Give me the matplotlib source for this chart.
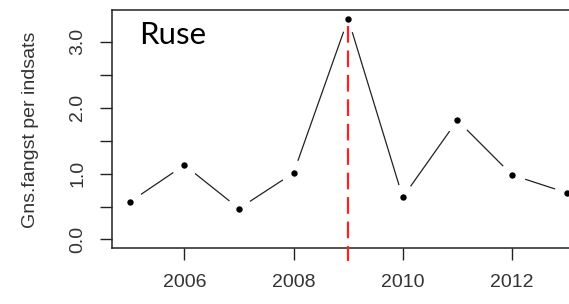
import numpy as np
import matplotlib
matplotlib.use("Agg")
import matplotlib.pyplot as plt

# mean catch per effort, fyke net ("Ruse")
years = [2005, 2006, 2007, 2008, 2009, 2010, 2011, 2012, 2013]
catch = [0.57, 1.13, 0.47, 1.01, 3.35, 0.64, 1.81, 0.98, 0.71]
mark_year = 2009
x_ticks = [2006, 2008, 2010, 2012]
y_ticks = [0.0, 0.5, 1.0, 1.5, 2.0, 2.5, 3.0]
y_labels = ["0.0", "", "1.0", "", "2.0", "", "3.0"]

plt.rcParams['font.family'] = ['Liberation Sans', 'DejaVu Sans']
txt = '#333333'

fig = plt.figure(figsize=(5.69, 3.04), dpi=100)
ax = fig.add_axes([0.1974, 0.1832, 0.829, 0.7839])

# R type="b": line with gaps around the points
ax.plot(years, catch, color='#222222', lw=0.9, zorder=1)
ax.plot(years, catch, 'o', ms=19, color='white', mec='none', zorder=2)
ax.plot(years, catch, 'o', ms=4.6, color='black', mec='none', zorder=3)

ax.plot([mark_year, mark_year], [3.24, -0.32], color='#ff2020', lw=1.6,
        dashes=(7.5, 3.5), clip_on=False, zorder=4)

ax.set_xlim(2004.68, 2013.32)
ax.set_ylim(-0.134, 3.484)
ax.set_xticks(x_ticks)
ax.set_xticklabels([str(y) for y in x_ticks])
ax.set_yticks(y_ticks)
ax.set_yticklabels(y_labels, rotation=90, va='center')

ax.tick_params(axis='both', length=8.6, width=1, color='#222222',
               labelsize=14, labelcolor=txt)
ax.tick_params(axis='x', pad=10)
ax.tick_params(axis='y', pad=10)
for s in ax.spines.values():
    s.set_linewidth(1.1)
    s.set_color('#222222')
    s.set_zorder(2.5)

fig.text(31 / 569, 1 - 129.7 / 304, "Gns.fangst per indsats", rotation=90,
         ha='center', va='center', fontsize=14, color=txt)

ax.text(0.057, 0.856, "Ruse", transform=ax.transAxes, ha='left',
        va='baseline', fontsize=22.5, family=['Lato', 'DejaVu Sans'],
        color='black')

fig.savefig('out.png', dpi=100)
